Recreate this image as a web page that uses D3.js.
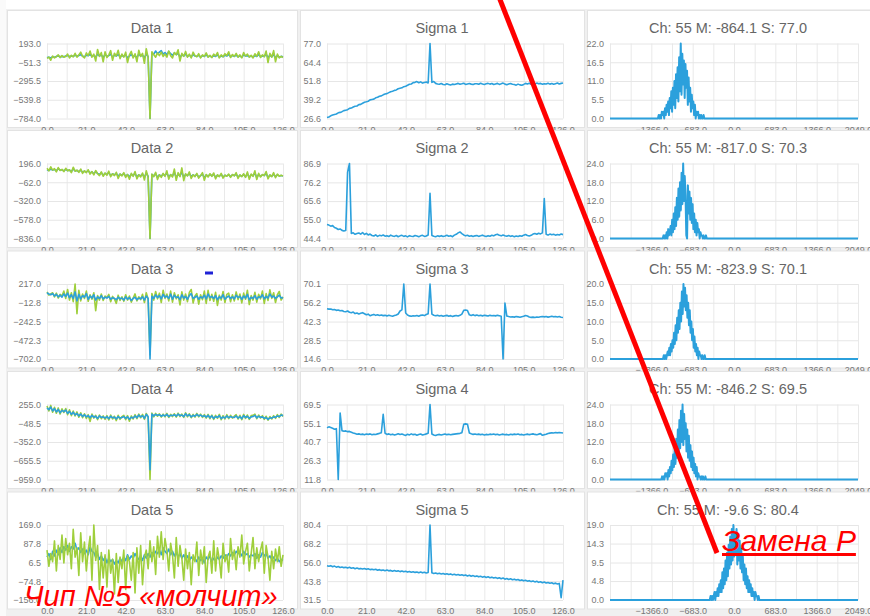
<!DOCTYPE html>
<html>
<head>
<meta charset="utf-8">
<script src="https://cdn.jsdelivr.net/npm/d3@7"></script>
<style>
  body { margin: 0; background: #fff; }
  svg { display: block; }
</style>
</head>
<body>
<svg id="chart" width="870" height="616"></svg>
<script>
// ---- data ----
const xTicks = [0, 21, 42, 63, 84, 105, 126]
const histTicks = [-2049, -1366, -683, 0, 683, 1366, 2049]

const dataTitles = ['Data 1', 'Data 2', 'Data 3', 'Data 4', 'Data 5']
const sigmaTitles = ['Sigma 1', 'Sigma 2', 'Sigma 3', 'Sigma 4', 'Sigma 5']
const histTitles = ['Ch: 55 M: -864.1 S: 77.0', 'Ch: 55 M: -817.0 S: 70.3', 'Ch: 55 M: -823.9 S: 70.1',
    'Ch: 55 M: -846.2 S: 69.5', 'Ch: 55 M: -9.6 S: 80.4']

const dataYTicks = [
    [193.0, -51.3, -295.5, -539.8, -784.0],
    [196.0, -62.0, -320.0, -578.0, -836.0],
    [217.0, -12.8, -242.5, -472.3, -702.0],
    [255.0, -48.5, -352.0, -655.5, -959.0],
    [169.0, 87.8, 6.5, -74.8, -156.0]
]
const sigmaYTicks = [
    [77.0, 64.4, 51.8, 39.2, 26.6],
    [86.9, 76.2, 65.6, 55.0, 44.4],
    [70.1, 56.2, 42.3, 28.5, 14.6],
    [69.5, 55.1, 40.7, 26.3, 11.8],
    [80.4, 68.2, 56.0, 43.8, 31.5]
]
const histYTicks = [
    [22.0, 16.5, 11.0, 5.5, 0.0],
    [24.0, 18.0, 12.0, 6.0, 0.0],
    [20.0, 15.0, 10.0, 5.0, 0.0],
    [24.0, 18.0, 12.0, 6.0, 0.0],
    [19.0, 14.3, 9.5, 4.8, 0.0]
]

const d1Green = [0, 15, -25, 30, 5, 20, 45, 10, 35, 15,
    25, 55, 5, 40, 20, 65, 15, 45, 80, 25,
    5, 70, 35, 95, 15, 55, -35, 115, 25, 75,
    -45, 85, 10, 45, 100, -25, 65, 30, 105, -5,
    55, 15, 80, -55, 45, 90, 5, 60, -45, 105,
    25, 65, -65, 125, 5, -784, 85, 45, 15, 70,
    35, 80, 25, 55, 15, 95, 35, 5, 75, 45,
    110, -35, 65, 25, 90, 15, 55, 5, 80, 35,
    20, 60, 5, 45, 25, 70, 15, 40, 10, 55,
    30, 75, 5, 45, 20, 60, 35, 85, 10, 50,
    25, 65, 15, 45, 5, 75, 30, 55, 15, 40,
    5, 60, 25, 85, 10, 45, 20, 95, -55, 65,
    15, 100, -45, 55, 5, 25, 10]
const d1Blue = [10, 15, 5, 20, 15, 25, 30, 20, 25, 20,
    30, 35, 25, 30, 25, 40, 30, 35, 45, 30,
    20, 40, 35, 50, 25, 40, 15, 55, 30, 45,
    10, 50, 25, 35, 55, 15, 40, 30, 50, 20,
    35, 25, 45, 5, 30, 50, 20, 35, 10, 55,
    30, 40, 5, 60, 20, -784, 70, 55, 95, 60,
    80, 100, 55, 75, 45, 90, 60, 40, 70, 50,
    65, 15, 45, 30, 55, 25, 40, 20, 50, 30,
    25, 40, 15, 35, 25, 45, 20, 30, 15, 35,
    25, 45, 15, 30, 20, 40, 30, 50, 20, 35,
    25, 40, 20, 30, 15, 45, 30, 35, 20, 30,
    15, 35, 25, 50, 20, 30, 25, 55, 10, 40,
    20, 50, 5, 35, 15, 25, 20]

const d2Green = [130, 95, 150, 105, 125, 80, 140, 100, 115, 85,
    130, 95, 110, 70, 145, 90, 105, 75, 120, 60,
    95, 70, 110, 50, 85, 40, 100, 55, 30, 80,
    20, 65, 35, 90, 15, 55, 30, 75, -10, 50,
    25, 70, 5, 45, -20, 60, 20, 85, -15, 40,
    10, 65, -30, 95, 5, -836, 50, 15, 75, -25,
    40, 5, 60, 20, 95, -20, 45, 10, 120, -35,
    70, 15, 135, -40, 55, 25, 80, -10, 40, 15,
    60, -5, 30, 70, -35, 45, 10, 55, 20, 65,
    -15, 40, 15, 60, -5, 35, 20, 50, 5, 45,
    25, 70, -10, 40, 15, 55, 5, 80, -20, 50,
    20, 95, -25, 60, 10, 45, 30, 85, -15, 40,
    15, 70, 0, 50, 20, 35, 25]
const d2Blue = [110, 100, 120, 105, 115, 95, 125, 105, 110, 95,
    115, 100, 105, 85, 120, 95, 100, 85, 105, 75,
    90, 80, 95, 65, 80, 55, 85, 60, 45, 70,
    35, 60, 45, 70, 30, 55, 40, 60, 20, 50,
    35, 55, 20, 45, 10, 50, 30, 60, 10, 40,
    25, 50, 5, 65, 20, -836, 45, 25, 55, 5,
    40, 20, 50, 30, 65, 10, 40, 25, 75, 0,
    50, 25, 80, 5, 45, 30, 60, 15, 40, 25,
    45, 10, 30, 50, 0, 40, 20, 45, 25, 50,
    5, 35, 20, 45, 10, 35, 25, 40, 15, 40,
    30, 50, 10, 35, 20, 45, 15, 55, 5, 40,
    25, 65, 0, 45, 20, 40, 30, 60, 5, 35,
    20, 50, 15, 40, 25, 30, 25]

const d3Green = [120, 80, 95, 110, 60, 105, 45, 90, 70, 130,
    40, 150, 20, 110, 0, 217, -146, 140, 10, 95,
    40, 130, 5, 85, 30, 110, -110, 75, 20, 95,
    15, 70, 50, 90, 0, 65, 35, -20, 80, 15,
    60, 5, 85, 20, 70, -5, 45, 95, 10, 60,
    25, 90, -10, 110, 30, -650, 100, 20, 125, 35,
    105, -10, 140, 40, 95, 10, 130, -5, 110, 35,
    85, -40, 120, 20, 95, 0, 115, 150, -15, 70,
    100, -30, 85, 25, 130, -20, 140, 15, 90, 5,
    115, -45, 80, 20, 125, -10, 90, 105, 0, 85,
    10, 120, 25, 95, -15, 105, 30, 140, -35, 75,
    20, 115, -5, 90, 35, 130, -20, 100, 15, 145,
    40, 110, -10, 85, 125, 20, 60]
const d3Blue = [110, 95, 85, 100, 70, 90, 60, 80, 55, 95,
    65, 105, 50, 85, 40, 120, 10, 90, 35, 75,
    55, 100, 30, 70, 45, 85, 20, 60, 40, 75,
    35, 55, 45, 65, 30, 50, 40, 25, 55, 35,
    45, 20, 60, 30, 50, 15, 40, 55, 25, 45,
    35, 60, 20, 70, 40, -702, 65, 40, 85, 50,
    75, 35, 90, 55, 70, 40, 95, 30, 80, 50,
    60, 25, 85, 45, 65, 30, 75, 100, 40, 55,
    70, 30, 60, 45, 80, 35, 95, 50, 65, 40,
    75, 25, 60, 45, 85, 30, 55, 70, 40, 60,
    35, 80, 50, 65, 30, 70, 45, 90, 25, 55,
    40, 75, 30, 60, 50, 85, 35, 65, 45, 95,
    55, 70, 40, 60, 80, 45, 50]

const d4Green = [230, 150, 240, 130, 210, 115, 200, 100, 185, 125,
    190, 90, 170, 75, 150, 70, 135, 50, 120, 40,
    105, 30, 90, -20, 100, 35, 80, 10, 85, 25,
    70, 15, 75, 5, 85, 20, 65, -5, 80, 15,
    60, 80, 10, 75, -15, 70, 20, 90, 25, 100,
    40, 95, 15, 110, 45, -959, 115, 55, 110, 65,
    105, 50, 100, 55, 110, 45, 95, 60, 105, 50,
    115, 60, 100, 45, 120, 55, 105, 40, 95, 50,
    110, 55, 100, 45, 90, 35, 95, 25, 85, 15,
    80, 30, 95, 10, 75, 20, 90, 25, 80, 35,
    65, 90, 20, 80, 10, 95, 30, 85, 15, 75,
    80, 100, 25, 85, 35, 75, 15, 65, 0, 60,
    20, 75, 30, 90, 45, 100, 60]
const d4Blue = [200, 170, 215, 150, 190, 135, 175, 120, 160, 140,
    165, 110, 145, 95, 130, 85, 110, 70, 100, 60,
    90, 55, 75, 40, 80, 50, 65, 30, 70, 45,
    55, 35, 60, 25, 65, 40, 50, 20, 60, 35,
    45, 60, 30, 55, 15, 50, 35, 70, 40, 85,
    55, 75, 30, 95, 60, -800, 100, 70, 95, 80,
    90, 65, 85, 70, 95, 60, 80, 75, 90, 65,
    100, 75, 85, 60, 105, 70, 90, 55, 80, 65,
    95, 70, 85, 60, 75, 50, 80, 40, 70, 30,
    60, 45, 75, 25, 55, 35, 70, 40, 60, 50,
    45, 70, 35, 60, 25, 75, 45, 65, 30, 55,
    60, 80, 40, 65, 50, 55, 30, 45, 15, 40,
    35, 55, 45, 70, 60, 85, 75]

const d5Green = [60, -10, 45, 10, 100, -30, 80, 20, 125, 5,
    110, 40, 90, -20, 150, 30, 70, -50, 135, 10,
    95, -30, 60, 120, -70, 169, 15, 80, -110, 50,
    -60, 40, -100, 60, -40, 20, -130, 45, -80, 30,
    -20, 60, -110, 35, 10, -70, 50, -125, 70, -40,
    80, -90, 30, 60, -20, 100, 10, 75, -45, 120,
    30, 140, 20, 110, 60, -30, 90, 40, -60, 115,
    -10, 80, 25, -70, 65, -20, 50, -90, 40, 10,
    95, -50, 60, 0, 75, -80, 30, 55, -40, 100,
    -30, 70, 20, -60, 90, 10, 40, -35, 110, 20,
    60, -25, 75, 30, 125, 0, 55, 90, -30, 45,
    115, -20, 70, 10, 60, 95, -40, 80, 30, -70,
    55, -20, 65, 10, 75, -10, 40]
const d5Blue = [30, 45, 20, 55, 35, 60, 40, 70, 50, 75,
    60, 80, 55, 75, 65, 90, 60, 70, 50, 65,
    45, 60, 40, 75, 55, 50, 30, 45, 20, 35,
    15, 30, 5, 25, 10, 20, 0, 15, 5, 25,
    10, 30, 15, 40, 20, 35, 25, 45, 30, 20,
    35, 15, 40, 25, 45, 30, 50, 35, 55, 45,
    60, 40, 70, 55, 45, 65, 40, 55, 35, 50,
    30, 45, 25, 40, 20, 35, 15, 30, 20, 25,
    10, 30, 15, 25, 5, 30, 20, 35, 10, 25,
    15, 30, 20, 35, 25, 40, 30, 45, 35, 50,
    40, 55, 45, 50, 35, 55, 40, 45, 30, 40,
    35, 45, 25, 40, 30, 50, 35, 45, 25, 35,
    20, 30, 15, 25, 10, 20, 15]

const sigma1 = [27.3, 27.6, 28.4, 28.9, 29.3, 29.6, 30.4, 30.7, 31.2, 31.9,
    32.2, 32.5, 33.4, 33.6, 34.3, 34.8, 35.0, 35.9, 36.1, 36.8,
    37.5, 37.8, 38.2, 39.1, 39.4, 39.6, 40.5, 40.9, 41.6, 41.8,
    42.5, 43.1, 43.3, 44.0, 44.6, 44.9, 45.5, 45.8, 46.6, 46.9,
    47.2, 48.0, 48.3, 48.9, 49.6, 49.8, 50.7, 50.9, 51.4, 50.6,
    51.2, 50.4, 50.8, 51.1, 50.5, 77.0, 50.9, 51.5, 50.2, 49.8,
    49.6, 50.1, 49.4, 49.3, 49.9, 49.5, 49.1, 49.7, 49.4, 49.8,
    50.2, 49.6, 49.9, 50.3, 49.5, 49.8, 50.1, 49.7, 49.4, 49.9,
    50.0, 49.6, 50.3, 49.8, 49.5, 49.9, 50.2, 49.7, 50.1, 49.4,
    49.8, 50.2, 49.5, 49.9, 50.4, 49.7, 49.3, 49.8, 50.1, 49.6,
    49.4, 49.0, 49.7, 49.2, 48.9, 49.5, 50.2, 49.8, 50.3, 49.6,
    50.1, 49.7, 50.4, 49.9, 50.2, 49.6, 50.0, 49.8, 50.3, 49.7,
    50.1, 49.6, 50.0, 50.4, 49.8, 50.2, 50.5]
const sigma2 = [52.3, 52.0, 51.4, 51.7, 50.6, 50.2, 49.5, 49.8, 49.0, 48.7,
    48.9, 82.0, 86.9, 47.3, 47.6, 46.8, 47.2, 47.5, 46.9, 47.8,
    46.7, 47.3, 46.4, 46.9, 46.1, 45.8, 46.5, 45.6, 46.2, 45.9,
    46.4, 45.7, 46.0, 45.5, 46.3, 45.8, 45.6, 46.1, 45.4, 45.9,
    46.2, 45.6, 45.9, 45.3, 46.0, 45.7, 45.5, 46.1, 45.8, 45.4,
    45.9, 46.2, 45.6, 45.8, 46.4, 70.0, 46.1, 45.7, 45.4, 45.9,
    45.6, 46.0, 45.5, 45.8, 46.2, 45.7, 46.0, 45.4, 46.3, 46.8,
    47.6, 48.1, 47.2, 46.4, 45.9, 46.2, 45.7, 46.0, 45.5, 45.9,
    46.1, 45.6, 45.9, 46.3, 45.8, 45.5, 46.0, 45.7, 46.2, 45.9,
    46.5, 46.8, 46.2, 45.9, 46.4, 46.0, 45.7, 46.1, 45.6, 45.9,
    45.4, 45.8, 45.5, 46.0, 45.7, 46.3, 46.7, 46.1, 45.8, 46.2,
    46.9, 47.2, 46.8, 47.4, 47.0, 47.6, 67.0, 46.8, 46.3, 46.9,
    46.5, 46.8, 46.3, 46.7, 46.4, 46.9, 46.6]
const sigma3 = [51.8, 51.5, 51.6, 51.0, 51.2, 50.6, 50.9, 50.3, 50.5, 49.8,
    49.6, 50.1, 49.2, 48.8, 49.3, 48.2, 48.6, 47.9, 48.4, 48.9,
    48.1, 47.3, 47.8, 46.6, 47.2, 47.6, 46.9, 47.3, 46.8, 47.1,
    46.7, 46.9, 46.5, 47.0, 46.6, 46.3, 46.8, 47.2, 47.9, 50.1,
    51.0, 70.1, 48.6, 47.1, 46.5, 46.2, 46.6, 46.4, 46.8, 46.3,
    46.9, 47.2, 46.7, 47.5, 48.0, 70.1, 47.8, 47.0, 46.6, 46.9,
    46.4, 46.8, 46.2, 46.6, 46.9, 46.3, 46.7, 46.1, 46.5, 46.8,
    46.4, 46.9, 47.8, 50.6, 50.9, 50.4, 47.3, 46.8, 47.4, 46.7,
    47.1, 46.6, 46.9, 46.5, 47.0, 46.7, 46.4, 46.9, 46.6, 46.8,
    46.5, 46.9, 46.6, 46.3, 14.6, 56.0, 46.4, 46.0, 45.7, 45.9,
    45.6, 46.0, 45.8, 45.5, 45.9, 46.2, 46.8, 46.4, 45.7, 45.4,
    45.6, 45.3, 45.7, 45.5, 45.9, 46.1, 45.8, 46.0, 45.6, 45.9,
    46.2, 45.8, 46.1, 45.7, 46.0, 45.5, 45.3]
const sigma4 = [51.6, 52.3, 51.8, 51.2, 50.5, 50.9, 11.8, 63.0, 49.4, 48.9,
    49.2, 48.6, 48.8, 48.2, 47.6, 47.1, 46.6, 46.9, 46.4, 46.7,
    46.3, 46.8, 46.5, 46.9, 46.2, 46.6, 46.4, 46.9, 47.3, 47.8,
    62.0, 47.4, 46.5, 46.9, 46.2, 46.7, 46.0, 46.5, 47.0, 46.4,
    46.8, 46.2, 45.7, 46.6, 46.1, 46.9, 46.3, 46.6, 45.9, 46.4,
    46.8, 46.1, 46.5, 46.9, 47.4, 69.5, 46.8, 46.0, 45.6, 46.2,
    46.5, 46.0, 46.4, 46.8, 46.3, 46.6, 46.2, 46.5, 46.7, 46.9,
    47.1, 47.3, 47.8, 54.2, 54.6, 54.3, 47.6, 47.0, 46.5, 46.8,
    46.4, 46.7, 46.3, 46.6, 46.1, 46.5, 46.2, 46.7, 46.4, 46.8,
    46.3, 46.6, 46.0, 46.4, 46.7, 46.2, 46.5, 46.1, 46.6, 46.3,
    46.7, 46.4, 46.8, 46.2, 46.5, 46.0, 46.4, 46.7, 46.3, 46.6,
    46.9, 46.5, 46.2, 46.7, 47.1, 45.8, 46.3, 46.6, 47.2, 47.5,
    47.8, 47.6, 47.9, 47.7, 48.0, 47.8, 47.6]
const sigma5 = [53.8, 53.5, 53.9, 53.2, 53.6, 52.9, 53.3, 52.7, 53.0, 52.6,
    52.9, 52.4, 52.8, 52.2, 52.5, 51.9, 52.3, 51.8, 52.1, 51.7,
    52.0, 51.5, 51.9, 51.3, 51.6, 51.2, 51.5, 50.9, 51.3, 50.8,
    51.1, 50.6, 51.0, 50.5, 50.8, 50.3, 50.7, 50.2, 50.5, 50.0,
    50.4, 49.9, 50.2, 49.7, 50.1, 49.6, 49.9, 49.5, 49.8, 49.3,
    49.7, 49.2, 49.6, 49.1, 49.4, 80.4, 49.2, 48.8, 49.1, 48.6,
    48.9, 48.5, 48.8, 48.3, 48.6, 48.1, 48.5, 47.9, 48.3, 47.8,
    48.1, 47.6, 47.9, 47.4, 47.8, 47.2, 47.6, 47.0, 47.4, 46.8,
    47.2, 46.6, 47.0, 46.4, 46.8, 46.2, 46.6, 46.0, 46.4, 45.8,
    46.2, 45.6, 46.0, 45.4, 45.8, 45.1, 45.5, 44.9, 45.3, 44.7,
    45.1, 44.5, 44.9, 44.2, 44.6, 44.0, 44.4, 43.8, 44.1, 43.5,
    43.9, 43.3, 43.7, 43.0, 43.4, 42.8, 43.2, 42.6, 42.9, 42.4,
    42.7, 42.1, 42.5, 41.9, 42.3, 33.0, 44.5]

// histograms: counts per 13-count bin, starting at histStart
const histStep = 13
const histStart = [-1257, -1178, -1173, -1201, -400]
const hist1 = [0, 1, 0, 1, 0, 2, 1, 2, 0, 3,
    1, 4, 2, 5, 1, 6, 3, 8, 2, 9,
    4, 11, 3, 13, 6, 15, 5, 18, 8, 22,
    7, 19, 10, 17, 6, 16, 9, 14, 4, 12,
    5, 9, 2, 7, 3, 5, 1, 4, 0, 2,
    1, 2, 0, 1, 0, 1, 0, 0, 1, 0, 0]
const hist2 = [0, 1, 0, 1, 0, 2, 0, 3, 1, 2,
    4, 1, 6, 2, 8, 3, 10, 4, 13, 6,
    16, 7, 18, 9, 21, 11, 24, 12, 20, 14,
    1, 0, 17, 8, 15, 6, 13, 5, 11, 3,
    8, 2, 6, 1, 5, 2, 3, 0, 2, 1,
    1, 0, 1, 0, 0, 1, 0]
const hist3 = [0, 1, 0, 1, 0, 1, 2, 1, 3, 1,
    4, 2, 5, 3, 7, 4, 9, 5, 11, 7,
    13, 8, 15, 10, 18, 12, 20, 14, 19, 13,
    17, 11, 15, 9, 13, 7, 10, 5, 8, 3,
    6, 2, 4, 1, 3, 0, 2, 1, 1, 0,
    1, 0, 0, 1, 0]
const hist4 = [0, 1, 0, 1, 0, 2, 1, 2, 0, 3,
    1, 4, 2, 6, 3, 8, 4, 10, 5, 13,
    7, 16, 8, 19, 10, 22, 12, 24, 11, 21,
    13, 18, 9, 16, 7, 14, 6, 11, 4, 9,
    3, 7, 2, 5, 1, 4, 0, 2, 1, 1,
    0, 1, 0, 1, 0, 0, 1, 0]
const hist5 = [0, 1, 0, 1, 0, 1, 2, 0, 2, 1,
    3, 1, 4, 2, 5, 2, 7, 3, 8, 4,
    10, 5, 12, 6, 14, 8, 16, 9, 18, 10,
    19, 11, 17, 12, 18, 9, 16, 10, 15, 8,
    13, 7, 11, 5, 9, 4, 8, 3, 6, 2,
    5, 2, 4, 1, 3, 1, 2, 0, 2, 1,
    1, 0, 1, 0, 0, 0]

const dataGreen = [d1Green, d2Green, d3Green, d4Green, d5Green]
const dataBlue = [d1Blue, d2Blue, d3Blue, d4Blue, d5Blue]
const sigmas = [sigma1, sigma2, sigma3, sigma4, sigma5]
const hists = [hist1, hist2, hist3, hist4, hist5]

// ---- layout ----
const width = 870, height = 616
const rowTop = [43.5, 163.5, 284, 404.5, 525]
const plotH = 75
const colX = [[47, 283], [327, 563], [610, 858]]
const panelX = [[7, 297], [300, 584], [587, 884]]
const titleX = [152, 442, 728]
const green = '#9fcf3c', blue = '#2ba0dc'
const greenOnTop = [true, true, false, false, true]
const fmt = d3.format('.1f')

const svg = d3.select('#chart')
    .attr('font-family', '"Liberation Sans", Arial, sans-serif')

svg.append('rect').attr('width', width).attr('height', height).attr('fill', '#f0f0f0')
svg.append('rect').attr('width', width).attr('height', 9).attr('fill', '#fff')
svg.append('rect').attr('width', 6).attr('height', height).attr('fill', '#fafafa')

function drawPanel(col, row, title, xScale, yTicks, minorTicks, xTickVals, xLabel) {
    const top = rowTop[row]
    const y = d3.scaleLinear()
        .domain(d3.extent(yTicks))
        .range([top + plotH, top])

    svg.append('rect')
        .attr('x', panelX[col][0] + 0.5)
        .attr('y', top - 33)
        .attr('width', panelX[col][1] - panelX[col][0])
        .attr('height', 117)
        .attr('fill', '#fff')
        .attr('stroke', '#e3e3e3')

    svg.append('text')
        .attr('x', titleX[col])
        .attr('y', top - 10.5)
        .attr('text-anchor', 'middle')
        .attr('font-size', 14.5)
        .attr('fill', '#666')
        .text(title)

    // vertical grid (minor + major)
    svg.append('g')
        .attr('transform', `translate(0,${top + plotH})`)
        .call(d3.axisBottom(xScale).tickValues(minorTicks).tickSize(-plotH).tickFormat(''))
        .call(g => g.select('.domain').remove())
        .call(g => g.selectAll('line').attr('stroke', '#e9e9e9'))

    const xa = svg.append('g')
        .attr('transform', `translate(0,${top + plotH})`)
        .call(d3.axisBottom(xScale).tickValues(xTickVals).tickSize(0).tickPadding(8).tickFormat(xLabel))
    xa.select('.domain').remove()
    xa.selectAll('text').attr('font-size', 9).attr('fill', '#777')

    const ya = svg.append('g')
        .attr('transform', `translate(${colX[col][0]},0)`)
        .call(d3.axisLeft(y).tickValues(yTicks).tickSize(-(colX[col][1] - colX[col][0])).tickPadding(6).tickFormat(fmt))
    ya.select('.domain').remove()
    ya.selectAll('line').attr('stroke', '#e6e6e6')
    ya.selectAll('text').attr('font-size', 9).attr('fill', '#777')

    return y
}

function drawLine(points, x, y, color, w) {
    svg.append('path')
        .datum(points)
        .attr('fill', 'none')
        .attr('stroke', color)
        .attr('stroke-width', w || 1.6)
        .attr('stroke-linejoin', 'round')
        .attr('d', d3.line().x(d => x(d[0])).y(d => y(d[1])))
}

const idxMinor = d3.range(0, 126.1, 10.5)
const histMinor = d3.range(-2049, 2050, 341.5)

for (let r = 0; r < 5; r++) {
    // data column
    const x1 = d3.scaleLinear().domain([0, 126]).range(colX[0])
    const y1 = drawPanel(0, r, dataTitles[r], x1, dataYTicks[r], idxMinor, xTicks, fmt)
    const g = dataGreen[r].map((v, i) => [i, v])
    const b = dataBlue[r].map((v, i) => [i, v])
    if (greenOnTop[r]) { drawLine(b, x1, y1, blue); drawLine(g, x1, y1, green) }
    else { drawLine(g, x1, y1, green); drawLine(b, x1, y1, blue) }

    // sigma column
    const x2 = d3.scaleLinear().domain([0, 126]).range(colX[1])
    const y2 = drawPanel(1, r, sigmaTitles[r], x2, sigmaYTicks[r], idxMinor, xTicks, fmt)
    drawLine(sigmas[r].map((v, i) => [i, v]), x2, y2, blue)

    // histogram column
    const x3 = d3.scaleLinear().domain([-2049, 2049]).range(colX[2])
    const y3 = drawPanel(2, r, histTitles[r], x3, histYTicks[r], histMinor, histTicks,
        d => d === -2049 ? '' : fmt(d))
    const pts = [[-2049, 0]]
        .concat(hists[r].map((c, i) => [histStart[r] + i * histStep, c]))
        .concat([[2049, 0]])
    drawLine(pts, x3, y3, blue, 2)
}

// stray blue mark in the Data 3 panel
svg.append('rect').attr('x', 205).attr('y', 271.5).attr('width', 8).attr('height', 3).attr('fill', '#1f22d6')

// ---- red annotations ----
svg.append('line')
    .attr('x1', 499).attr('y1', -3)
    .attr('x2', 717).attr('y2', 553)
    .attr('stroke', '#ff0000')
    .attr('stroke-width', 5)

svg.append('text')
    .attr('x', 24).attr('y', 606)
    .attr('font-size', 29)
    .attr('font-style', 'italic')
    .attr('fill', '#ff0000')
    .text('Чип №5 «молчит»')

svg.append('text')
    .attr('x', 722).attr('y', 551)
    .attr('font-size', 30)
    .attr('font-style', 'italic')
    .attr('fill', '#ff0000')
    .attr('text-decoration', 'underline')
    .text('Замена Р')
</script>
</body>
</html>
